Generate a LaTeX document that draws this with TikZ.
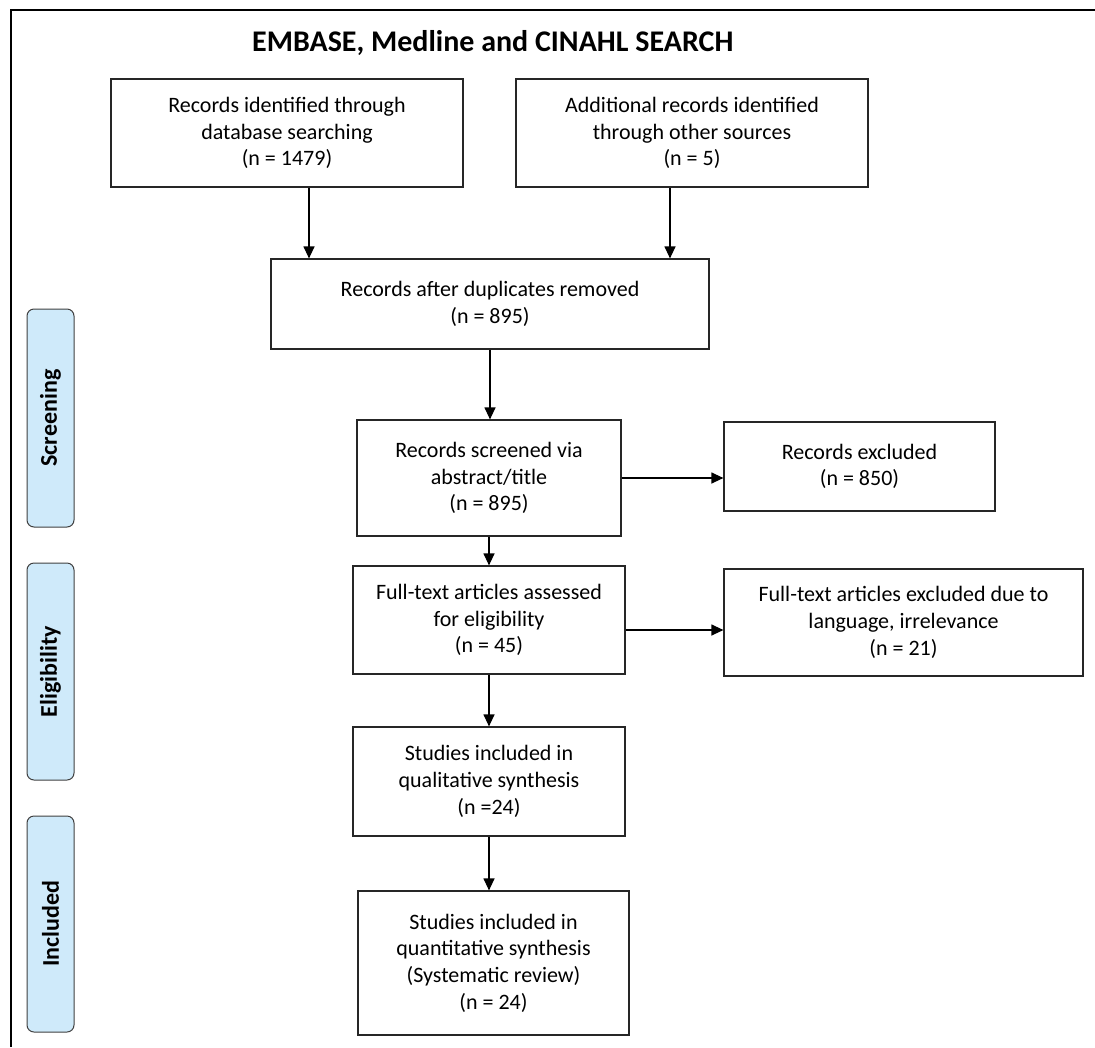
\documentclass[tikz,border=0pt]{standalone}
\usepackage{fontspec}
\setmainfont{Carlito}
\usetikzlibrary{arrows.meta}
\definecolor{phaseblue}{RGB}{207,234,250}
\tikzstyle{box}=[draw=black!85,line width=1.2pt,align=center,inner sep=0pt,font=\fontsize{22}{26.7}\selectfont]
\tikzstyle{phase}=[draw=black!75,fill=phaseblue,line width=1pt,rounded corners=7pt,rotate=90,minimum height=47pt,inner sep=0pt,font=\bfseries\fontsize{24}{28}\selectfont]
\tikzstyle{arr}=[line width=1.2pt,-{Triangle[length=12pt,width=11pt]}]

\begin{document}
\begin{tikzpicture}[x=1pt,y=-1pt]
    \useasboundingbox (0,0) rectangle (1095,1047);
    \draw[line width=2pt] (11,1047) -- (11,10) -- (1095,10);
    \node[font=\bfseries\fontsize{30}{36}\selectfont,anchor=base west,inner sep=0pt] (ttl) at (252,51) {EMBASE, Medline and CINAHL SEARCH};

    \node[phase,minimum width=218pt] (s1) at (50.5,418)   {Screening};
    \node[phase,minimum width=217pt] (s2) at (50.5,671.5) {Eligibility};
    \node[phase,minimum width=216pt] (s3) at (50.5,924)   {Included};

    \node[box,minimum width=352pt,minimum height=108pt] (n1) at (287,133)   {Records identified through\\database searching\\(n = 1479)};
    \node[box,minimum width=352pt,minimum height=108pt] (n2) at (692,133)   {Additional records identified\\through other sources\\(n = 5)};
    \node[box,minimum width=438pt,minimum height=90pt]  (n3) at (490,304)   {Records after duplicates removed\\(n = 895)};
    \node[box,minimum width=264pt,minimum height=116pt] (n4) at (489,478)   {Records screened via\\abstract/title\\(n = 895)};
    \node[box,minimum width=271pt,minimum height=89pt]  (x1) at (859.5,466.5) {Records excluded\\(n = 850)};
    \node[box,minimum width=272pt,minimum height=108pt] (n5) at (489,620)   {Full-text articles assessed\\for eligibility\\(n = 45)};
    \node[box,minimum width=359pt,minimum height=107pt] (x2) at (903.5,622.5) {Full-text articles excluded due to\\language, irrelevance\\(n = 21)};
    \node[box,minimum width=272pt,minimum height=109pt] (n6) at (489,781.5) {Studies included in\\qualitative synthesis\\(n =24)};
    \node[box,minimum width=271pt,minimum height=144pt] (n7) at (493.5,963) {Studies included in\\quantitative synthesis\\(Systematic review)\\(n = 24)};

    \draw[arr] ([xshift=22pt]n1.south) -- ([xshift=22pt]n1.south |- n3.north);
    \draw[arr] ([xshift=-22pt]n2.south) -- ([xshift=-22pt]n2.south |- n3.north);
    \foreach \from/\to in {n3/n4,n4/n5,n5/n6,n6/n7}
    \draw[arr] (\from.south) -- (\from.south |- \to.north);
    \draw[arr] (n4.east) -- (n4.east -| x1.west);
    \draw[arr] ([yshift=-10pt]n5.east) -- ([yshift=-10pt]n5.east -| x2.west);
\end{tikzpicture}
\end{document}
